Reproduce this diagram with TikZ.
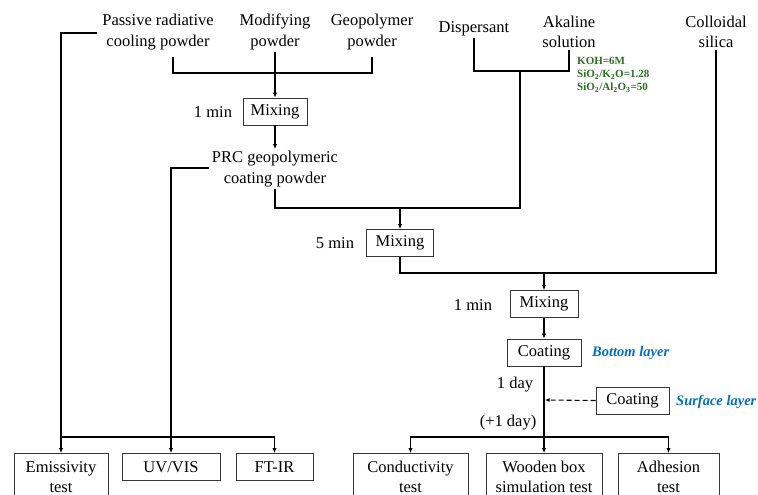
\documentclass[tikz,border=0pt]{standalone}
\usepackage{fontspec}
\setmainfont{Liberation Serif}
\usetikzlibrary{arrows.meta}
\definecolor{grn}{RGB}{45,110,35}
\definecolor{blu}{RGB}{0,112,192}
\definecolor{boxc}{RGB}{55,55,55}
\begin{document}
\begin{tikzpicture}[x=1pt,y=-1pt,
  txt/.style={font=\fontsize{16.5}{20.5}\selectfont, align=center, inner sep=2pt},
  box/.style={draw=boxc, line width=0.9pt, font=\fontsize{16.5}{20.5}\selectfont, align=center, inner sep=0pt, minimum height=27pt},
  tbox/.style={box, anchor=north, minimum height=47pt},
  ln/.style={line width=1.1pt},
  arr/.style={line width=1.1pt, -{Latex[length=5pt,width=4.5pt]}},
  note/.style={font=\fontsize{11}{13}\selectfont\bfseries, text=grn, align=left, inner sep=0pt, anchor=north west},
  lay/.style={font=\fontsize{14.5}{16}\selectfont\bfseries\itshape, text=blu, inner sep=0pt, anchor=west}]
\useasboundingbox[fill=white] (0,0) rectangle (758,495);
% inputs
\node[txt] (passive) at (158,32) {Passive radiative\\cooling powder};
\node[txt] (modif) at (275,32) {Modifying\\powder};
\node[txt] (geo) at (372,32) {Geopolymer\\powder};
\node[txt] (disp) at (474,29) {Dispersant};
\node[txt] (alk) at (569,32) {Akaline\\solution};
\node[txt] (coll) at (716,32) {Colloidal\\silica};
\node[note] (comp) at (577,57) {KOH=6M\\SiO\textsubscript{2}/K\textsubscript{2}O=1.28\\SiO\textsubscript{2}/Al\textsubscript{2}O\textsubscript{3}=50};
% process
\node[box, minimum width=64pt] (mix1) at (275,111.5) {Mixing};
\node[txt] (t1) at (213,112) {1 min};
\node[txt] (prc) at (275,169) {PRC geopolymeric\\coating powder};
\node[box, minimum width=67pt] (mix2) at (400,243) {Mixing};
\node[txt] (t2) at (335,243) {5 min};
\node[box, minimum width=68pt] (mix3) at (544,304) {Mixing};
\node[txt] (t3) at (473,305) {1 min};
\node[box, minimum width=74pt] (coat1) at (544,352.5) {Coating};
\node[lay] (bot) at (592,353) {Bottom layer};
\node[box, minimum width=73pt] (coat2) at (632.5,400.5) {Coating};
\node[lay] (surf) at (676,402) {Surface layer};
\node[txt] (d1) at (515,385) {1 day};
\node[txt] (d2) at (508,423) {(+1 day)};
% tests
\node[tbox, minimum width=94pt] (emis) at (61,453) {Emissivity\\test};
\node[box, minimum width=98pt, anchor=north] (uv) at (171,453) {UV/VIS};
\node[box, minimum width=77pt, anchor=north] (ftir) at (274.5,453) {FT-IR};
\node[tbox, minimum width=115pt] (cond) at (410.5,453) {Conductivity\\test};
\node[tbox, minimum width=116pt] (wood) at (544,453) {Wooden box\\simulation test};
\node[tbox, minimum width=101pt] (adh) at (668.5,453) {Adhesion\\test};
% junction coordinates
\coordinate (jtop) at (275,73);
\coordinate (jl) at (173,57);
\coordinate (jr) at (372,57);
\coordinate (jd) at (520,71);
\coordinate (j2) at (400,208);
\coordinate (j4) at (544,273);
\coordinate (jdash) at (545,400);
\coordinate (j5) at (544,437);
\coordinate (jleft) at (61,437);
% connectors
\draw[ln] (jl) |- (jr |- jtop) -- (jr);
\draw[arr] (modif.south) -- (mix1.north);
\draw[arr] (mix1.south) -- (prc.north);
\draw[arr] ([xshift=-3pt]passive.west |- 0,33) -| (emis.north);
\draw[arr] (jleft) -| (ftir.north);
\draw[arr] ([xshift=-1pt]prc.west |- 0,168) -| (uv.north);
\draw[ln] (disp.south) |- (jd) -| (alk.south);
\draw[ln] (jd) |- (j2);
\draw[arr] (prc.south) |- (j2) -- (mix2.north);
\draw[ln] (mix2.south) |- (j4) -| (coll.south);
\draw[arr] (j4) -- (mix3.north);
\draw[arr] (mix3.south) -- (coat1.north);
\draw[arr] (coat1.south) -- (wood.north);
\draw[arr] (j5) -| (cond.north);
\draw[arr] (j5) -| (adh.north);
\draw[line width=1.1pt, dash pattern=on 5pt off 3pt, -{Latex[length=4.5pt,width=4pt]}] (coat2.west) -- (jdash);
\end{tikzpicture}
\end{document}
